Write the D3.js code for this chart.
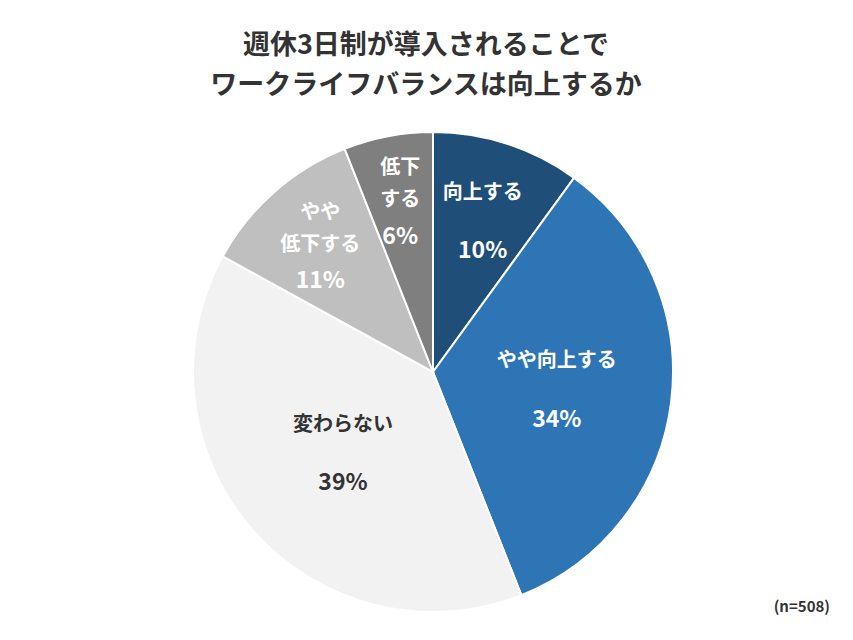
<!DOCTYPE html>
<html><head><meta charset="utf-8">
<script src="https://cdn.jsdelivr.net/npm/d3@7"></script>
<style>body{margin:0;background:#fff}text{font-family:"Noto Sans CJK JP","Noto Sans",sans-serif}</style>
</head><body><svg id="c" width="853" height="640"></svg>
<script>
const categories = ["向上する","やや向上する","変わらない","やや\n低下する","低下\nする"];
const values = [10,34,39,11,6];
const colors = ["#1f4e79","#2e75b6","#f2f2f2","#bfbfbf","#7f7f7f"];
const textColors = ["#fff","#fff","#333","#fff","#fff"];
const labelRadius = [0.67,0.52,0.5,0.71,0.73];
const svg = d3.select("#c");
svg.append("text").attr("x",426).attr("y",54).attr("text-anchor","middle").attr("font-size",27).attr("font-weight","bold").attr("fill","#333").text("週休3日制が導入されることで");
svg.append("text").attr("x",426).attr("y",94).attr("text-anchor","middle").attr("font-size",27).attr("font-weight","bold").attr("fill","#333").text("ワークライフバランスは向上するか");
const cx=433, cy=372, R=240;
const g = svg.append("g").attr("transform",`translate(${cx},${cy})`);
const pie = d3.pie().sort(null).value(d=>d)(values);
const arc = d3.arc().innerRadius(0).outerRadius(R);
g.selectAll("path").data(pie).join("path").attr("d",arc).attr("fill",(d,i)=>colors[i]).attr("stroke","#fff").attr("stroke-width",2);
pie.forEach((d,i)=>{
  const a=(d.startAngle+d.endAngle)/2, r=R*labelRadius[i];
  const x=r*Math.sin(a), y=-r*Math.cos(a);
  const lines=categories[i].split("\n");
  const lh = i>=3?32:0;
  const gap = i>=3?36:58;
  const total = (lines.length-1)*lh + gap;
  const y0 = y - total/2;
  lines.forEach((l,j)=>g.append("text").attr("x",x).attr("y",y0+j*lh).attr("text-anchor","middle").attr("dominant-baseline","central").attr("font-size",20).attr("font-weight","bold").attr("fill",textColors[i]).text(l));
  g.append("text").attr("x",x).attr("y",y0+(lines.length-1)*lh+gap).attr("text-anchor","middle").attr("dominant-baseline","central").attr("font-size",23).attr("font-weight","bold").attr("fill",textColors[i]).text(values[i]+"%");
});
svg.append("text").attr("x",830).attr("y",612).attr("text-anchor","end").attr("font-size",15).attr("font-weight","bold").attr("fill","#333").text("(n=508)");
</script></body></html>
